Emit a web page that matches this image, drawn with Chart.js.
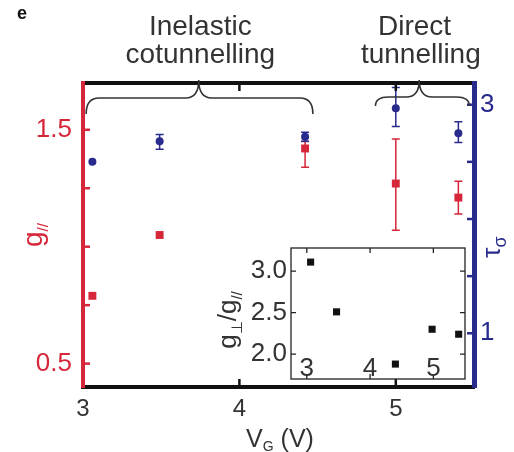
<!DOCTYPE html>
<html>
<head>
<meta charset="utf-8">
<script src="https://cdn.jsdelivr.net/npm/chart.js@4"></script>
<style>
body { margin: 0; background: #fff; }
#wrap { position: relative; width: 514px; height: 452px; }
#main { position: absolute; left: 0; top: 0; }
#inset { position: absolute; left: 230px; top: 240px; }
</style>
</head>
<body>
<div id="wrap">
  <canvas id="main" width="514" height="452"></canvas>
  <canvas id="inset" width="240" height="145"></canvas>
</div>
<script>
// gate voltage and measured values
var vg = [3.06, 3.49, 4.42, 5.0, 5.4];
var gPar = [0.79, 1.05, 1.42, 1.27, 1.21];
var gParLo = [0.79, 1.05, 1.34, 1.07, 1.14];
var gParHi = [0.79, 1.05, 1.45, 1.46, 1.28];
var tau = [2.50, 2.68, 2.72, 2.97, 2.75];
var tauLo = [2.50, 2.61, 2.68, 2.81, 2.67];
var tauHi = [2.50, 2.74, 2.76, 3.15, 2.85];

// inset: anisotropy ratio
var ratioVg = [3.06, 3.47, 4.40, 4.98, 5.40];
var ratio = [3.11, 2.51, 1.88, 2.30, 2.24];

// ticks
var xTicks = [3, 4, 5];
var gTicks = [0.5, 0.75, 1, 1.25, 1.5];
var gLabels = [0.5, 1.5];
var tauTicks = [1, 1.5, 2, 2.5, 3];
var tauLabels = [1, 3];
var ratioTicks = [2.0, 2.5, 3.0];

var RED = 'rgb(214,38,58)';
var BLUE = 'rgb(40,42,140)';
var FONT = 'Liberation Sans, Arial, sans-serif';

function pts(xs, ys) {
  return xs.map(function (x, i) { return { x: x, y: ys[i] }; });
}
function fixTicks(list) {
  return function (s) { s.ticks = list.map(function (v) { return { value: v }; }); };
}
// keep the plot area where the layout padding puts it
function noLabelPad(s) { s.paddingTop = 0; s.paddingBottom = 0; }

function drawBrace(ctx, x1, xm, x2, yTip, yMid, yEnd) {
  var r = 13;
  ctx.beginPath();
  ctx.moveTo(x1, yEnd);
  ctx.quadraticCurveTo(x1, yMid, x1 + r, yMid);
  ctx.lineTo(xm - r, yMid);
  ctx.quadraticCurveTo(xm, yMid, xm, yTip);
  ctx.quadraticCurveTo(xm, yMid, xm + r, yMid);
  ctx.lineTo(x2 - r, yMid);
  ctx.quadraticCurveTo(x2, yMid, x2, yEnd);
  ctx.stroke();
}

// text with subscripts, optionally rotated to read bottom-up
function drawParts(ctx, cx, cy, parts, color, rotate) {
  ctx.save();
  ctx.translate(cx, cy);
  if (rotate) ctx.rotate(-Math.PI / 2);
  ctx.fillStyle = color;
  ctx.textBaseline = 'alphabetic';
  ctx.textAlign = 'left';
  var total = 0;
  parts.forEach(function (p) { ctx.font = p.size + 'px ' + FONT; total += ctx.measureText(p.t).width; });
  var x = -total / 2;
  parts.forEach(function (p) {
    ctx.font = p.size + 'px ' + FONT;
    ctx.fillText(p.t, x, p.dy || 0);
    x += ctx.measureText(p.t).width;
  });
  ctx.restore();
}

var errorBars = {
  id: 'errorBars',
  beforeDatasetsDraw: function (chart) {
    var ctx = chart.ctx, x = chart.scales.x;
    ctx.save();
    ctx.lineWidth = 1.5;
    function bar(sc, v, lo, hi, color) {
      if (hi - lo < 0.02) return;
      var px = x.getPixelForValue(v), a = sc.getPixelForValue(lo), b = sc.getPixelForValue(hi);
      ctx.strokeStyle = color;
      ctx.beginPath();
      ctx.moveTo(px, a); ctx.lineTo(px, b);
      ctx.moveTo(px - 4, a); ctx.lineTo(px + 4, a);
      ctx.moveTo(px - 4, b); ctx.lineTo(px + 4, b);
      ctx.stroke();
    }
    vg.forEach(function (v, i) {
      bar(chart.scales.y, v, gParLo[i], gParHi[i], RED);
      bar(chart.scales.y2, v, tauLo[i], tauHi[i], BLUE);
    });
    ctx.restore();
  }
};

var decor = {
  id: 'decor',
  afterDraw: function (chart) {
    var ctx = chart.ctx, a = chart.chartArea, s = chart.scales;
    ctx.save();
    // inward ticks
    ctx.lineWidth = 2.5;
    ctx.strokeStyle = RED;
    gTicks.forEach(function (v) {
      var p = s.y.getPixelForValue(v);
      ctx.beginPath(); ctx.moveTo(a.left, p); ctx.lineTo(a.left + 7, p); ctx.stroke();
    });
    ctx.strokeStyle = BLUE;
    tauTicks.forEach(function (v) {
      var p = s.y2.getPixelForValue(v);
      ctx.beginPath(); ctx.moveTo(a.right, p); ctx.lineTo(a.right - 7, p); ctx.stroke();
    });
    ctx.strokeStyle = '#111';
    [4, 5].forEach(function (v) {
      var p = s.x.getPixelForValue(v);
      ctx.beginPath(); ctx.moveTo(p, a.bottom); ctx.lineTo(p, a.bottom - 8); ctx.stroke();
      ctx.beginPath(); ctx.moveTo(p, a.top); ctx.lineTo(p, a.top + 8); ctx.stroke();
    });

    // regime braces
    ctx.strokeStyle = '#333';
    ctx.lineWidth = 1.6;
    var px = function (v) { return s.x.getPixelForValue(v); };
    drawBrace(ctx, px(3.02), px(3.74), px(4.47), 80, 98, 114);
    drawBrace(ctx, px(4.87), px(5.15), px(5.47), 80, 97, 106);

    ctx.fillStyle = '#333';
    ctx.textAlign = 'center';
    ctx.textBaseline = 'alphabetic';
    ctx.font = '28px ' + FONT;
    ctx.fillText('Inelastic', px(3.75), 35);
    ctx.fillText('cotunnelling', px(3.75), 63);
    ctx.fillText('Direct', px(5.12), 35);
    ctx.fillText('tunnelling', px(5.16), 63);

    // panel letter
    ctx.font = 'bold 18px ' + FONT;
    ctx.fillStyle = '#111';
    ctx.fillText('e', 22, 19);

    // axis titles
    drawParts(ctx, 280, 447, [
      { t: 'V', size: 25 }, { t: 'G', size: 14, dy: 4 }, { t: ' (V)', size: 25 }
    ], '#333', false);
    drawParts(ctx, 42, 235, [
      { t: 'g', size: 28 }, { t: '//', size: 15, dy: 6 }
    ], RED, true);
    drawParts(ctx, 500, 247, [
      { t: 'τ', size: 26 }, { t: 'σ', size: 18, dy: 6 }
    ], BLUE, true);
    drawParts(ctx, 236, 320, [
      { t: 'g', size: 26 }, { t: '⊥', size: 15, dy: 6 }, { t: '/g', size: 26 }, { t: '//', size: 15, dy: 6 }
    ], '#333', true);
    ctx.restore();
  }
};

new Chart(document.getElementById('main'), {
  type: 'scatter',
  data: {
    datasets: [{
      label: 'g//',
      data: pts(vg, gPar),
      yAxisID: 'y',
      pointStyle: 'rect',
      pointRadius: 5.6,
      backgroundColor: RED,
      borderColor: RED,
      borderWidth: 0
    }, {
      label: 'tau',
      data: pts(vg, tau),
      yAxisID: 'y2',
      pointStyle: 'circle',
      pointRadius: 4,
      backgroundColor: BLUE,
      borderColor: BLUE,
      borderWidth: 0
    }]
  },
  options: {
    responsive: false,
    animation: false,
    devicePixelRatio: 1,
    layout: { padding: { top: 83, left: 0, right: 0, bottom: 0 } },
    plugins: { legend: { display: false }, tooltip: { enabled: false } },
    scales: {
      x: {
        type: 'linear', position: 'bottom', min: 3, max: 5.5,
        afterBuildTicks: fixTicks(xTicks),
        grid: { display: false, drawTicks: false },
        border: { color: '#111', width: 4 },
        ticks: { color: '#333', font: { size: 24, family: FONT }, padding: 8, maxRotation: 0 },
        afterFit: function (s) { s.height = 65; }
      },
      x2: {
        type: 'linear', position: 'top', min: 3, max: 5.5,
        grid: { display: false, drawTicks: false },
        border: { color: '#111', width: 4 },
        ticks: { display: false },
        afterFit: function (s) { s.height = 0; }
      },
      y: {
        type: 'linear', position: 'left', min: 0.4, max: 1.7,
        afterBuildTicks: fixTicks(gTicks),
        grid: { display: false, drawTicks: false },
        border: { color: RED, width: 4 },
        ticks: {
          color: RED, font: { size: 26, family: FONT }, padding: 11,
          callback: function (v) { return gLabels.indexOf(v) >= 0 ? v.toFixed(1) : ''; }
        },
        afterFit: function (s) { s.width = 83; }
      },
      y2: {
        type: 'linear', position: 'right', min: 0.53, max: 3.19,
        afterBuildTicks: fixTicks(tauTicks),
        grid: { display: false, drawTicks: false },
        border: { color: BLUE, width: 5 },
        ticks: {
          color: BLUE, font: { size: 26, family: FONT }, padding: 6,
          callback: function (v) { return tauLabels.indexOf(v) >= 0 ? String(v) : ''; }
        },
        afterFit: function (s) { s.width = 40; }
      }
    }
  },
  plugins: [errorBars, decor]
});

var insetFrame = {
  id: 'insetFrame',
  afterDraw: function (chart) {
    var ctx = chart.ctx, a = chart.chartArea, s = chart.scales;
    ctx.save();
    ctx.strokeStyle = '#222';
    ctx.lineWidth = 1.3;
    ctx.strokeRect(a.left, a.top, a.right - a.left, a.bottom - a.top);
    xTicks.forEach(function (v) {
      var p = s.x.getPixelForValue(v);
      ctx.beginPath();
      ctx.moveTo(p, a.top); ctx.lineTo(p, a.top + 5);
      ctx.moveTo(p, a.bottom); ctx.lineTo(p, a.bottom - 5);
      ctx.stroke();
    });
    ratioTicks.forEach(function (v) {
      var p = s.y.getPixelForValue(v);
      ctx.beginPath();
      ctx.moveTo(a.left, p); ctx.lineTo(a.left + 5, p);
      ctx.moveTo(a.right, p); ctx.lineTo(a.right - 5, p);
      ctx.stroke();
    });
    // x labels sit inside the frame
    ctx.fillStyle = '#333';
    ctx.font = '26px ' + FONT;
    ctx.textAlign = 'center';
    ctx.textBaseline = 'alphabetic';
    xTicks.forEach(function (v) {
      ctx.fillText(String(v), s.x.getPixelForValue(v), a.bottom - 3);
    });
    ctx.restore();
  }
};

new Chart(document.getElementById('inset'), {
  type: 'scatter',
  data: {
    datasets: [{
      data: pts(ratioVg, ratio),
      pointStyle: 'rect',
      pointRadius: 5,
      backgroundColor: '#111',
      borderColor: '#111',
      borderWidth: 0
    }]
  },
  options: {
    responsive: false,
    animation: false,
    devicePixelRatio: 1,
    layout: { padding: { top: 8, right: 4, bottom: 6, left: 0 } },
    plugins: { legend: { display: false }, tooltip: { enabled: false } },
    scales: {
      x: { type: 'linear', display: false, min: 2.75, max: 5.5 },
      y: {
        type: 'linear', position: 'left', min: 1.7, max: 3.28,
        afterBuildTicks: fixTicks(ratioTicks),
        grid: { display: false, drawTicks: false },
        border: { display: false },
        ticks: {
          color: '#333', font: { size: 26, family: FONT }, padding: 4,
          callback: function (v) { return v.toFixed(1); }
        },
        afterFit: function (s) { s.width = 61; noLabelPad(s); }
      }
    }
  },
  plugins: [insetFrame]
});
</script>
</body>
</html>
